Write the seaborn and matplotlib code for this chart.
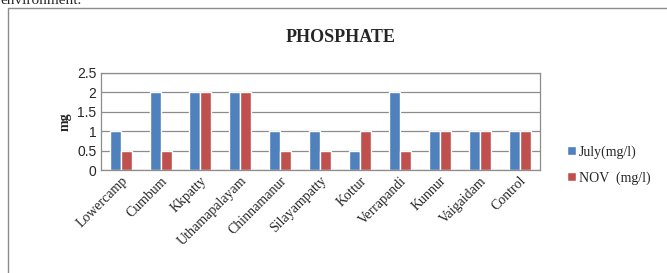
import seaborn as sns
import pandas as pd
import matplotlib.pyplot as plt
from matplotlib.patches import Rectangle

sites = ['Lowercamp', 'Cumbum', 'Kkpatty', 'Uthamapalayam', 'Chinnamanur',
         'Silayampatty', 'Kottur', 'Verrapandi', 'Kunnur', 'Vaigaidam', 'Control']
july = [1, 2, 2, 2, 1, 1, 0.5, 2, 1, 1, 1]
nov = [0.5, 0.5, 2, 2, 0.5, 0.5, 1, 0.5, 1, 1, 1]
series = ['July(mg/l)', 'NOV  (mg/l)']
colors = ['#4F81BD', '#C0504D']

df = pd.DataFrame({
    'Site': sites * 2,
    'Value': july + nov,
    'Series': [series[0]] * len(sites) + [series[1]] * len(sites),
})

sns.set_theme(style='white')
plt.rcParams['font.family'] = ['Liberation Serif', 'DejaVu Serif']

fig = plt.figure(figsize=(6.67, 2.73), dpi=100)
ax = fig.add_axes([0.151, 0.377, 0.658, 0.356])

sns.barplot(data=df, x='Site', y='Value', hue='Series', palette=colors,
            width=0.55, saturation=1, ax=ax, legend=True)

ax.set_ylim(0, 2.5)
ax.set_yticks([0, 0.5, 1, 1.5, 2, 2.5])
ax.set_yticklabels(['0', '0.5', '1', '1.5', '2', '2.5'], family='Liberation Sans', fontsize=10)
ax.yaxis.grid(True, color='#8c8c8c', linewidth=0.9)
ax.set_axisbelow(True)
ax.set_xlim(-0.5, len(sites) - 0.5)
for s in ax.spines.values():
    s.set_color('#8c8c8c')
    s.set_linewidth(0.9)
ax.tick_params(axis='both', length=0, pad=3)
plt.setp(ax.get_xticklabels(), rotation=45, ha='right', rotation_mode='anchor',
         fontsize=10, color='#262626')
ax.set_xlabel('')
ax.set_ylabel('mg', fontsize=10, fontweight='bold', labelpad=4)

ax.legend(loc='center left', bbox_to_anchor=(1.035, 0.05), frameon=False,
          fontsize=10, handlelength=0.6, handleheight=0.6, handletextpad=0.2,
          labelspacing=0.9)

fig.text(0.51, 0.862, 'PHOSPHATE', ha='center', va='center',
         fontsize=13, fontweight='bold')

# outer chart frame
fig.patches.append(Rectangle((8 / 667, -0.05), 1.0, 1.0 - 8 / 273 + 0.05,
                             transform=fig.transFigure, fill=False,
                             edgecolor='#8c8c8c', linewidth=1.0))
# tail of the page text above the chart, clipped by the top edge as in the source
fig.text(0.0, 1 - 4 / 273, 'environment.', ha='left', va='baseline', fontsize=11)

fig.savefig('out.png', dpi=100)
